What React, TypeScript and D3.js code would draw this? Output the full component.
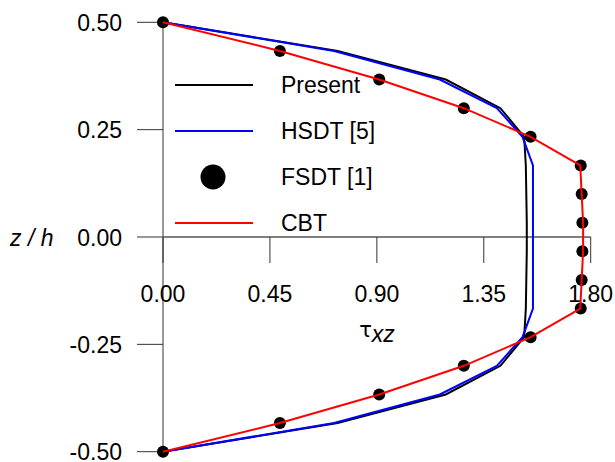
import React from 'react';
import * as d3 from 'd3';

// z/h through the thickness (top to bottom)
const zValues = [
  0.5, 0.4333, 0.3667, 0.3, 0.2333, 0.1667, 0.1, 0.0333,
  -0.0333, -0.1, -0.1667, -0.2333, -0.3, -0.3667, -0.4333, -0.5,
];

// transverse shear stress tau_xz for each model
const presentVals = [
  0, 0.735, 1.19, 1.42, 1.52, 1.527, 1.529, 1.531,
  1.531, 1.529, 1.527, 1.52, 1.42, 1.19, 0.735, 0,
];
const hsdtVals = [
  0, 0.72, 1.165, 1.405, 1.513, 1.557, 1.557, 1.557,
  1.557, 1.557, 1.557, 1.513, 1.405, 1.165, 0.72, 0,
];
const fsdtVals = [
  0, 0.492, 0.91, 1.266, 1.547, 1.758, 1.762, 1.765,
  1.765, 1.762, 1.758, 1.547, 1.266, 0.91, 0.492, 0,
];
const cbtVals = [
  0, 0.492, 0.91, 1.266, 1.547, 1.756, 1.762, 1.768,
  1.768, 1.762, 1.756, 1.547, 1.266, 0.91, 0.492, 0,
];

const xTicks = [0, 0.45, 0.9, 1.35, 1.8];
const yTicks = [0.5, 0.25, 0, -0.25, -0.5];
const legendItems = [
  { label: 'Present', kind: 'line', color: '#000000' },
  { label: 'HSDT [5]', kind: 'line', color: '#0000ff' },
  { label: 'FSDT [1]', kind: 'dot', color: '#000000' },
  { label: 'CBT', kind: 'line', color: '#ff0000' },
];

const W = 615;
const H = 462;
const FONT = '"Liberation Sans", Arial, sans-serif';

const App: React.FC = () => {
  const x = d3.scaleLinear().domain([0, 1.8]).range([163, 590.7]);
  const y = d3.scaleLinear().domain([-0.5, 0.5]).range([451.7, 22.3]);

  const line = d3.line<number>()
    .x((d) => x(d))
    .y((d, i) => y(zValues[i]));

  const x0 = x(0);
  const y0 = y(0);

  return (
    <svg
      width={W}
      height={H}
      style={{ position: 'absolute', left: 0, top: 0, background: '#fff' }}
      fontFamily={FONT}
    >
      {/* axes */}
      <line x1={x0} x2={x0} y1={y(0.5)} y2={y(-0.5)} stroke="#333" strokeWidth={1} />
      <line x1={x(0)} x2={x(1.8)} y1={y0} y2={y0} stroke="#555" strokeWidth={1.3} />

      {yTicks.map((t) => (
        <g key={'y' + t}>
          <line x1={x0 - 26} x2={x0} y1={y(t)} y2={y(t)} stroke="#333" strokeWidth={1} />
          <text x={122} y={y(t) + 8.5} textAnchor="end" fontSize={23} fill="#000">
            {t.toFixed(2)}
          </text>
        </g>
      ))}

      {xTicks.map((t) => (
        <g key={'x' + t}>
          <line x1={x(t)} x2={x(t)} y1={y0} y2={y0 + 26} stroke="#333" strokeWidth={1} />
          <text x={x(t)} y={301.5} textAnchor="middle" fontSize={23} fill="#000">
            {t.toFixed(2)}
          </text>
        </g>
      ))}

      {/* axis titles */}
      <text x={377} y={337} textAnchor="middle" fontSize={23} fill="#000">
        <tspan fontFamily='"DejaVu Sans", sans-serif' fontSize={21}>τ</tspan>
        <tspan fontStyle="italic" dy={5}>xz</tspan>
      </text>
      <text x={10} y={246} fontSize={23} fontStyle="italic" fill="#000">z / h</text>

      {/* series */}
      <path d={line(presentVals) || ''} fill="none" stroke="#000" strokeWidth={2} />
      <path d={line(hsdtVals) || ''} fill="none" stroke="#0000ff" strokeWidth={2} />
      {fsdtVals.map((v, i) => (
        <circle key={'f' + i} cx={x(v)} cy={y(zValues[i])} r={6} fill="#000" />
      ))}
      <path d={line(cbtVals) || ''} fill="none" stroke="#ff0000" strokeWidth={2} />

      {/* legend */}
      {legendItems.map((item, i) => {
        const ly = 85 + i * 46;
        return (
          <g key={item.label}>
            {item.kind === 'line' ? (
              <line x1={175} x2={253} y1={ly} y2={ly} stroke={item.color} strokeWidth={2} />
            ) : (
              <circle cx={213} cy={ly} r={12.5} fill={item.color} />
            )}
            <text x={281} y={ly + 8} fontSize={23} fill="#000">{item.label}</text>
          </g>
        );
      })}
    </svg>
  );
};

export default App;
